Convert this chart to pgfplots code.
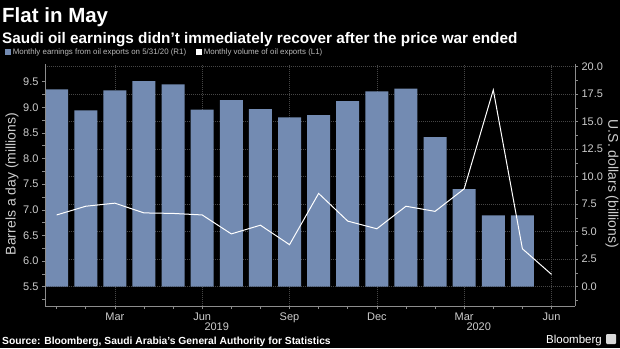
\documentclass[border=0pt]{standalone}
\usepackage{fontspec}
\setmainfont{Liberation Sans}
\usepackage{pgfplots}
\pgfplotsset{compat=1.18}
\definecolor{barc}{RGB}{115,139,178}
\definecolor{axc}{RGB}{140,140,140}
\definecolor{tickc}{RGB}{205,205,205}
\definecolor{gridc}{RGB}{70,70,70}
\definecolor{legc}{RGB}{185,185,185}
\begin{document}
\begin{tikzpicture}[x=1pt,y=1pt]
\fill[black] (0,0) rectangle (620,348);
\path[use as bounding box] (0,0) rectangle (620,348);
\node[anchor=base west, inner sep=0pt, text=white, font=\bfseries\fontsize{20.5}{22}\selectfont] at (2,325) {Flat in May};
\node[anchor=base west, inner sep=0pt, text=white, font=\bfseries\fontsize{15.3}{17}\selectfont] at (2,304.5) {Saudi oil earnings didn't immediately recover after the price war ended};
\node[anchor=base west, inner sep=0pt, text=white, font=\bfseries\fontsize{10.3}{12}\selectfont] at (2,4) {Source: Bloomberg, Saudi Arabia's General Authority for Statistics};
\node[anchor=base east, inner sep=0pt, text=white, font=\fontsize{11.5}{13}\selectfont] at (602,5) {Bloomberg};
\fill[white!85!black, rounded corners=1pt] (606,4) rectangle (616,14);

\begin{axis}[
  at={(45pt,42pt)}, anchor=south west,
  scale only axis, width=530pt, height=241.7pt,
  xmin=-0.40, xmax=17.807,
  ymin=-1.755, ymax=20.22,
  axis y line*=right, axis x line*=bottom,
  axis line style={axc, line width=0.8pt},
  tick style={axc, line width=0.6pt},
  tick align=outside,
  major tick length=3pt, minor tick length=2.5pt,
  xtick={2,5,8,11,14,17},
  xticklabels={Mar,Jun,Sep,Dec,Mar,Jun},
  minor xtick={0,1,...,17},
  ytick={0,2.5,...,20},
  minor ytick={-1.25,1.25,3.75,6.25,8.75,11.25,13.75,16.25,18.75},
  xmajorgrids, ymajorgrids,
  grid style={gridc, line width=0.5pt, dash pattern=on 1pt off 1pt},
  /pgf/number format/assume math mode=true,
  yticklabel style={/pgf/number format/fixed, /pgf/number format/fixed zerofill, /pgf/number format/precision=1},
  ticklabel style={text=tickc, font=\fontsize{11}{13}\selectfont},
  ylabel={U.S. dollars (billions)},
  ylabel style={at={(axis description cs:1.0698,0.505)}, anchor=center, rotate=180, text=tickc, font=\fontsize{14}{16}\selectfont},
  legend style={at={(axis description cs:-0.0755,1.051)}, anchor=west, draw=none, fill=none, inner sep=0pt, text=legc, font=\fontsize{7.9}{9}\selectfont, /tikz/every even column/.append style={column sep=8pt}},
  legend columns=2,
  clip mode=individual,
]
\addplot[ybar, bar width=0.79, fill=barc, draw=none, forget plot] coordinates {
(0,17.95) (1,16.04) (2,17.85) (3,18.70) (4,18.40) (5,16.09) (6,16.97) (7,16.15) (8,15.40)
(9,15.60) (10,16.88) (11,17.76) (12,18.00) (13,13.60) (14,8.88) (15,6.49) (16,6.49)};
\addlegendimage{legend image code/.code={\fill[barc] (0pt,-2.6pt) rectangle (5.2pt,2.6pt);}}
\addlegendentry{Monthly earnings from oil exports on 5/31/20 (R1)}
\addlegendimage{legend image code/.code={\fill[white] (0pt,-2.6pt) rectangle (5.2pt,2.6pt);}}
\addlegendentry{Monthly volume of oil exports (L1)}
\node[text=tickc, font=\fontsize{11}{13}\selectfont] at (axis cs:5.5,-1.755) [yshift=-21pt] {2019};
\node[text=tickc, font=\fontsize{11}{13}\selectfont] at (axis cs:14.5,-1.755) [yshift=-21pt] {2020};
\end{axis}

\begin{axis}[
  at={(45pt,42pt)}, anchor=south west,
  scale only axis, width=530pt, height=241.7pt,
  xmin=-0.40, xmax=17.807,
  ymin=5.123, ymax=9.840,
  axis y line*=left, axis x line=none,
  axis line style={axc, line width=0.8pt},
  tick style={axc, line width=0.6pt},
  tick align=outside,
  major tick length=3pt, minor tick length=2.5pt,
  ytick={5.5,6,...,9.5},
  minor ytick={5.25,5.75,6.25,6.75,7.25,7.75,8.25,8.75,9.25},
  /pgf/number format/assume math mode=true,
  yticklabel style={/pgf/number format/fixed, /pgf/number format/fixed zerofill, /pgf/number format/precision=1},
  ticklabel style={text=tickc, font=\fontsize{11}{13}\selectfont},
  ylabel={Barrels a day (millions)},
  ylabel style={at={(axis description cs:-0.0623,0.505)}, anchor=center, text=tickc, font=\fontsize{14}{16}\selectfont},
  clip mode=individual,
]
\addplot[white, line width=1pt, mark=none] coordinates {
(0,6.90) (1,7.07) (2,7.13) (3,6.94) (4,6.93) (5,6.90) (6,6.53) (7,6.70) (8,6.32)
(9,7.32) (10,6.78) (11,6.63) (12,7.07) (13,6.97) (14,7.41) (15,9.34) (16,6.24) (17,5.74)};
\draw[axc, line width=0.6pt] (axis cs:11,5.123) ++(0,-14pt) -- ++(0,-13pt);
\end{axis}
\end{tikzpicture}
\end{document}
